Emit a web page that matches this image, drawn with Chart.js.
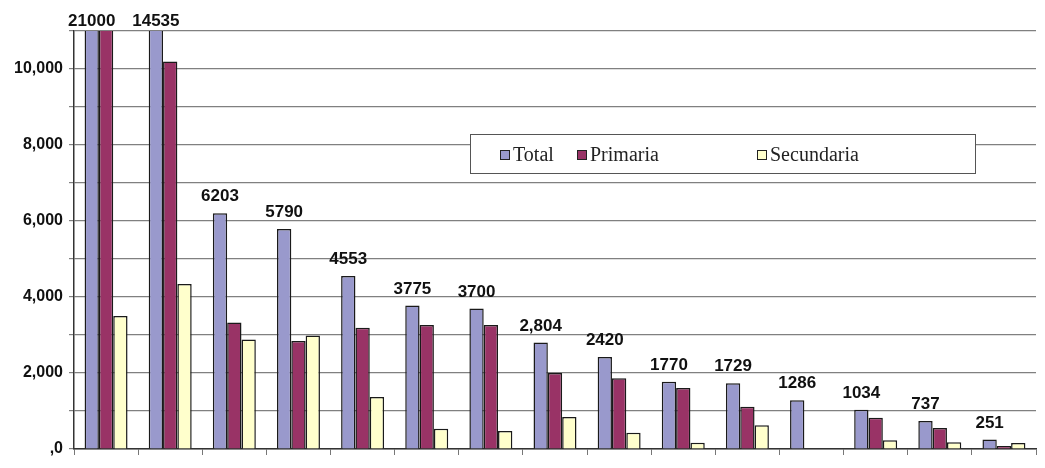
<!DOCTYPE html>
<html>
<head>
<meta charset="utf-8">
<script src="https://cdn.jsdelivr.net/npm/chart.js@4/dist/chart.umd.min.js"></script>
<style>
  html, body { margin: 0; padding: 0; background: #fff; }
  #wrap { width: 1045px; height: 468px; }
</style>
</head>
<body>
<div id="wrap"><canvas id="chart" width="1045" height="468"></canvas></div>
<script>
// ==========================================
// Datos
// ==========================================
const categories = ['1', '2', '3', '4', '5', '6', '7', '8', '9', '10', '11', '12', '13', '14', '15'];
const seriesNames = ['Total', 'Primaria', 'Secundaria'];

const totalValues      = [21000, 14535, 6203, 5790, 4553, 3775, 3700, 2804, 2420, 1770, 1729, 1286, 1034, 737, 251];
const primariaValues   = [11500, 10200, 3330, 2840, 3190, 3260, 3260, 2000, 1860, 1605, 1114, 0, 824, 553, 79];
const secundariaValues = [3500, 4340, 2880, 2990, 1370, 535, 474, 842, 430, 167, 623, 0, 228, 175, 158];

// etiquetas tal como aparecen sobre las barras
const totalLabels = ['21000', '14535', '6203', '5790', '4553', '3775', '3700', '2,804', '2420', '1770', '1729', '1286', '1034', '737', '251'];

const yMax = 11000;
const yStep = 1000;

const colors = ['#9999cc', '#993366', '#ffffcc'];

// ==========================================
// Plugins
// ==========================================
const valueLabels = {
    id: 'valueLabels',
    afterDatasetsDraw(chart) {
        const ctx = chart.ctx;
        const meta = chart.getDatasetMeta(0);
        const top = chart.chartArea.top;
        ctx.save();
        ctx.font = 'bold 17px "Liberation Sans", Arial, sans-serif';
        ctx.fillStyle = '#111';
        ctx.textAlign = 'center';
        ctx.textBaseline = 'bottom';
        meta.data.forEach((bar, i) => {
            let y = bar.y - 8;
            if (totalValues[i] > yMax) y = top - 1;
            ctx.fillText(totalLabels[i], bar.x, y);
        });
        ctx.restore();
    }
};

// leyenda en recuadro sobre el área del gráfico
const boxLegend = {
    id: 'boxLegend',
    afterDraw(chart) {
        const ctx = chart.ctx;
        const box = { x: 470, y: 134, w: 505, h: 39 };
        const itemX = [500, 577, 757];
        ctx.save();
        ctx.fillStyle = '#fff';
        ctx.fillRect(box.x, box.y, box.w, box.h);
        ctx.strokeStyle = '#555';
        ctx.lineWidth = 1;
        ctx.strokeRect(box.x + 0.5, box.y + 0.5, box.w, box.h);
        ctx.font = '20px "Liberation Serif", "Times New Roman", serif';
        ctx.textBaseline = 'middle';
        chart.data.datasets.forEach((ds, i) => {
            const x = itemX[i];
            const cy = 155;
            ctx.fillStyle = ds.backgroundColor;
            ctx.fillRect(x, cy - 5, 9, 9);
            ctx.strokeStyle = '#222';
            ctx.strokeRect(x + 0.5, cy - 4.5, 9, 9);
            ctx.fillStyle = '#222';
            ctx.textAlign = 'left';
            ctx.fillText(ds.label, x + 13, cy + 1);
        });
        ctx.restore();
    }
};

// ==========================================
// Gráfico
// ==========================================
const seriesValues = [totalValues, primariaValues, secundariaValues];

new Chart(document.getElementById('chart'), {
    type: 'bar',
    data: {
        labels: categories,
        datasets: seriesNames.map((name, i) => ({
            label: name,
            data: seriesValues[i],
            backgroundColor: colors[i],
            borderColor: '#1a1a1a',
            borderWidth: 1.5,
            borderSkipped: 'bottom',
            categoryPercentage: 0.67,
            barPercentage: 1.0
        }))
    },
    options: {
        responsive: false,
        animation: false,
        layout: { padding: { top: 31, right: 9, left: 0, bottom: 0 } },
        plugins: {
            legend: { display: false },
            tooltip: { enabled: false }
        },
        scales: {
            x: {
                afterFit: (scale) => { scale.height = 19; },
                grid: {
                    offset: true,
                    drawOnChartArea: false,
                    color: '#777',
                    tickLength: 6
                },
                border: { display: true, color: '#333', width: 1.5 },
                ticks: { display: false }
            },
            y: {
                min: 0,
                max: yMax,
                afterFit: (scale) => { scale.width = 74; },
                grid: {
                    color: '#808080',
                    lineWidth: 1.2,
                    tickLength: 5
                },
                border: { display: true, color: '#333', width: 1.5 },
                ticks: {
                    stepSize: yStep,
                    padding: 6,
                    color: '#111',
                    font: { family: '"Liberation Sans", Arial, sans-serif', size: 16, weight: 'bold' },
                    callback: (v) => {
                        if (v === 0) return ',0';
                        if (v % 2000 === 0) return v.toLocaleString('en-US');
                        return '';
                    }
                }
            }
        }
    },
    plugins: [valueLabels, boxLegend]
});
</script>
</body>
</html>
